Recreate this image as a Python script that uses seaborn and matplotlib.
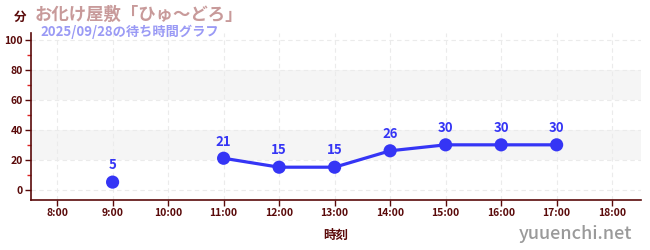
import numpy as np
import pandas as pd
import matplotlib
matplotlib.use("Agg")
import matplotlib.pyplot as plt
from matplotlib.ticker import FixedLocator
import seaborn as sns

# Wait times (minutes) per hour; None = no report for that hour
hours = [8, 9, 10, 11, 12, 13, 14, 15, 16, 17, 18]
hour_labels = ["8:00", "9:00", "10:00", "11:00", "12:00", "13:00",
               "14:00", "15:00", "16:00", "17:00", "18:00"]
wait_minutes = [None, 5, None, 21, 15, 15, 26, 30, 30, 30, None]

title_text = "お化け屋敷「ひゅ〜どろ」"
subtitle_text = "2025/09/28の待ち時間グラフ"
y_unit = "分"
x_title = "時刻"
site = "yuuenchi.net"

sns.set_theme(style="white")
plt.rcParams["font.family"] = ["Noto Sans CJK JP", "DejaVu Sans"]

df = pd.DataFrame({"hour": hours, "wait": wait_minutes}, dtype=float)
# split into contiguous runs so missing hours leave gaps in the line
df["run"] = df["wait"].isna().cumsum()
pts = df.dropna(subset=["wait"])

fig = plt.figure(figsize=(6.5, 2.5), dpi=100)
ax = fig.add_axes([31 / 650, 50 / 250, 610 / 650, 167 / 250])

# shaded bands
for lo, hi in [(20, 40), (60, 80)]:
    ax.axhspan(lo, hi, color="#f5f5f5", zorder=0, lw=0)

line_color = "#3535f5"
sns.lineplot(data=pts, x="hour", y="wait", units="run", estimator=None,
             color=line_color, lw=2.3, ax=ax, zorder=3)
sns.scatterplot(data=pts, x="hour", y="wait", color=line_color, s=90,
                edgecolor="none", ax=ax, zorder=4)

for h, w in zip(pts["hour"], pts["wait"]):
    ax.annotate(f"{int(w)}", (h, w), xytext=(0, 7), textcoords="offset points",
                ha="center", va="bottom", fontsize=9.5, fontweight="bold",
                color=line_color, zorder=5)

ax.set_xlim(7.53, 18.52)
ax.set_ylim(-7, 105)
ax.set_xticks(hours)
ax.set_xticklabels(hour_labels)
ax.yaxis.set_major_locator(FixedLocator([0, 20, 40, 60, 80, 100]))
ax.yaxis.set_minor_locator(FixedLocator([10, 30, 50, 70, 90]))

ax.grid(True, which="major", color="#ebebeb", ls=(0, (4, 3)), lw=0.8)
ax.set_axisbelow(True)

axis_color = "#5a0a0a"
for side in ["top", "right"]:
    ax.spines[side].set_visible(False)
for side in ["left", "bottom"]:
    ax.spines[side].set_color(axis_color)
    ax.spines[side].set_linewidth(1.2)

ax.tick_params(axis="both", which="major", length=4, width=1, color=axis_color,
               labelcolor=axis_color, labelsize=7.5, pad=2)
ax.tick_params(axis="y", which="minor", length=3, width=1, color="#dd2222",
               left=True)
ax.tick_params(axis="x", bottom=True)
ax.tick_params(axis="y", left=True)
for lab in ax.get_xticklabels() + ax.get_yticklabels():
    lab.set_fontweight("bold")

ax.set_xlabel(x_title, fontsize=9, fontweight="bold", color=axis_color, labelpad=8)
ax.set_ylabel("")

fig.text(14 / 650, 1 - 17 / 250, y_unit, fontsize=9, fontweight="bold",
         color=axis_color, ha="left", va="center")
fig.text(35 / 650, 1 - 15 / 250, title_text, fontsize=12.5, fontweight="bold",
         color="#c89a9a", ha="left", va="center")
fig.text(40 / 650, 1 - 32 / 250, subtitle_text, fontsize=9.5, fontweight="bold",
         color="#9a9af5", ha="left", va="center")
fig.text(632 / 650, 1 - 234 / 250, site, fontsize=13, color="#9a9a9a",
         fontweight="medium", ha="right", va="center")

fig.savefig("out.png", dpi=100)
